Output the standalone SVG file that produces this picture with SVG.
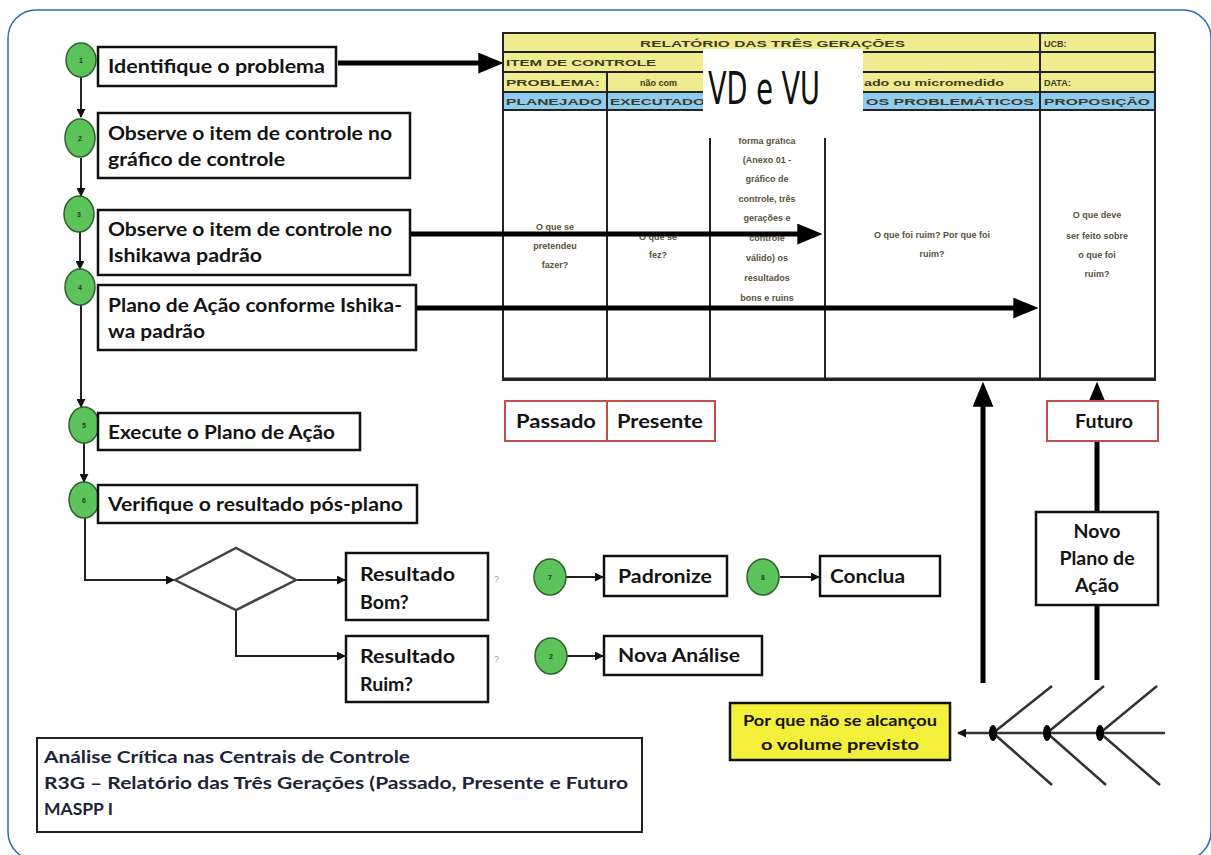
<svg xmlns="http://www.w3.org/2000/svg" width="1211" height="855" viewBox="0 0 1211 855">
<defs>
<style>
.lbl{font-family:Lato,"Liberation Sans",sans-serif;font-weight:700;font-size:19.5px;fill:#141414}
.box{fill:#fff;stroke:#111;stroke-width:2.5}
.rbox{fill:#fff;stroke:#c0504d;stroke-width:2}
.circ{fill:#5cc25a;stroke:#2f5f2f;stroke-width:1.5}
.num{font-family:"Liberation Sans",sans-serif;font-size:7px;font-weight:700;fill:#1e3a1e;text-anchor:middle}
.thin{fill:none;stroke:#222;stroke-width:2;marker-end:url(#sa)}
.thick{fill:none;stroke:#000;stroke-width:5;marker-end:url(#ba)}
.thickn{fill:none;stroke:#000;stroke-width:5}
.hdr{font-family:"Liberation Sans",sans-serif;font-weight:700;font-size:9px;fill:#3b3a22}
.cell{font-family:"Liberation Sans",sans-serif;font-weight:700;font-size:9px;fill:#585238;text-anchor:middle}
.tl{fill:none;stroke:#222;stroke-width:2}
.bone{fill:none;stroke:#333;stroke-width:2.5}
.info{font-family:Lato,"Liberation Sans",sans-serif;font-weight:700;font-size:17.5px;fill:#1c2438}
</style>
<marker id="sa" viewBox="0 0 10 10" refX="9" refY="5" markerWidth="9" markerHeight="9" markerUnits="userSpaceOnUse" orient="auto"><path d="M0,0 L10,5 L0,10 z" fill="#111"/></marker>
<marker id="ba" viewBox="0 0 24 20" refX="16" refY="10" markerWidth="25" markerHeight="21" markerUnits="userSpaceOnUse" orient="auto"><path d="M0,0 L24,10 L0,20 z" fill="#000"/></marker>
</defs>
<rect x="0" y="0" width="1211" height="855" fill="#fff"/>
<rect x="8" y="10" width="1203" height="850" rx="28" fill="none" stroke="#2f6fa8" stroke-width="1.5"/>

<g id="table">
<rect x="503" y="33" width="652" height="59" fill="#efeb8e"/>
<rect x="503" y="92" width="652" height="18" fill="#8fccef"/>
<rect x="503" y="33" width="652" height="347" fill="none" stroke="#222" stroke-width="2"/>
<line x1="503" y1="52" x2="1155" y2="52" class="tl"/>
<line x1="503" y1="72" x2="1155" y2="72" class="tl"/>
<line x1="503" y1="92" x2="1155" y2="92" class="tl"/>
<line x1="503" y1="110" x2="1155" y2="110" class="tl"/>
<line x1="1040" y1="33" x2="1040" y2="380" class="tl"/>
<line x1="607" y1="72" x2="607" y2="380" class="tl"/>
<line x1="710" y1="138" x2="710" y2="380" class="tl"/>
<line x1="825" y1="138" x2="825" y2="380" class="tl"/>
<line x1="503" y1="379" x2="1155" y2="379" stroke="#222" stroke-width="3"/>
<text class="hdr" x="640" y="47" textLength="265" lengthAdjust="spacingAndGlyphs">RELATÓRIO DAS TRÊS GERAÇÕES</text>
<text class="hdr" x="1044" y="47">UCB:</text>
<text class="hdr" x="506" y="66" textLength="150" lengthAdjust="spacingAndGlyphs">ITEM DE CONTROLE</text>
<text class="hdr" x="506" y="86" textLength="94" lengthAdjust="spacingAndGlyphs">PROBLEMA:</text>
<text class="hdr" x="640" y="86">não com</text>
<text class="hdr" x="864" y="86" textLength="140" lengthAdjust="spacingAndGlyphs">ado ou micromedido</text>
<text class="hdr" x="1044" y="86">DATA:</text>
<text class="hdr" x="506" y="105" textLength="96" lengthAdjust="spacingAndGlyphs">PLANEJADO</text>
<text class="hdr" x="610" y="105" textLength="95" lengthAdjust="spacingAndGlyphs">EXECUTADO</text>
<text class="hdr" x="866" y="105" textLength="168" lengthAdjust="spacingAndGlyphs">OS PROBLEMÁTICOS</text>
<text class="hdr" x="1044" y="105" textLength="106" lengthAdjust="spacingAndGlyphs">PROPOSIÇÃO</text>
<text class="cell" x="555" y="230">O que se</text>
<text class="cell" x="555" y="249">pretendeu</text>
<text class="cell" x="555" y="268">fazer?</text>
<text class="cell" x="658" y="240">O que se</text>
<text class="cell" x="658" y="258">fez?</text>
<text class="cell" x="767" y="144">forma gráfica</text>
<text class="cell" x="767" y="163">(Anexo 01 -</text>
<text class="cell" x="767" y="182">gráfico de</text>
<text class="cell" x="767" y="202">controle, três</text>
<text class="cell" x="767" y="221">gerações e</text>
<text class="cell" x="767" y="241">controle</text>
<text class="cell" x="767" y="261">válido) os</text>
<text class="cell" x="767" y="281">resultados</text>
<text class="cell" x="767" y="301">bons e ruins</text>
<text class="cell" x="932" y="238">O que foi ruim? Por que foi</text>
<text class="cell" x="932" y="257">ruim?</text>
<text class="cell" x="1097" y="218">O que deve</text>
<text class="cell" x="1097" y="239">ser feito sobre</text>
<text class="cell" x="1097" y="258">o que foi</text>
<text class="cell" x="1097" y="277">ruim?</text>
<rect x="703" y="49" width="160" height="89" fill="#fff"/>
<text x="708" y="104" font-family="'Liberation Sans Narrow','DejaVu Sans Condensed',sans-serif" font-size="44" fill="#111" textLength="112" lengthAdjust="spacingAndGlyphs">VD e VU</text>
</g>

<g id="connectors">
<path class="thin" d="M81,77 V117"/>
<path class="thin" d="M81,158 V196"/>
<path class="thin" d="M80,232 V269"/>
<path class="thin" d="M81,305 V407"/>
<path class="thin" d="M84,443 V482"/>
<path class="thin" d="M85,518 V580 H174"/>
<path class="thin" d="M296,580 H345"/>
<path class="thin" d="M236,610 V656 H345"/>
<path class="thin" d="M566,577 H603"/>
<path class="thin" d="M780,577 H819"/>
<path class="thin" d="M567,656 H603"/>
<path class="thick" d="M338,63 H495"/>
<path class="thick" d="M410,234 H814"/>
<path class="thick" d="M416,308 H1030"/>
<path class="thick" d="M983,683 V390"/>
<path class="thick" d="M1097,401 V390"/>
<path class="thickn" d="M1097,441 V512"/>
<path class="thickn" d="M1097,605 V680"/>
<path class="bone" d="M1165,733 H958" marker-end="url(#sa)"/>
<path class="bone" d="M993,733 L1052,686 M1047,733 L1104,686 M1100,733 L1157,686"/>
<path class="bone" d="M993,733 L1052,785 M1047,733 L1106,785 M1100,733 L1160,785"/>
<ellipse cx="993" cy="733" rx="4" ry="8" fill="#000"/>
<ellipse cx="1047" cy="733" rx="4" ry="8" fill="#000"/>
<ellipse cx="1100" cy="733" rx="4" ry="8" fill="#000"/>
</g>

<g id="n1"><ellipse class="circ" cx="81" cy="60" rx="15" ry="17"/><text class="num" x="81" y="63">1</text>
<rect class="box" x="98" y="47" width="238" height="39"/><text class="lbl" x="108" y="73" textLength="217" lengthAdjust="spacingAndGlyphs">Identifique o problema</text></g>
<g id="n2"><ellipse class="circ" cx="80" cy="138" rx="15" ry="19"/><text class="num" x="80" y="141">2</text>
<rect class="box" x="98" y="113" width="312" height="65"/><text class="lbl" x="108" y="140" textLength="284" lengthAdjust="spacingAndGlyphs">Observe o item de controle no</text><text class="lbl" x="108" y="166" textLength="177" lengthAdjust="spacingAndGlyphs">gráfico de controle</text></g>
<g id="n3"><ellipse class="circ" cx="79" cy="214" rx="15" ry="18"/><text class="num" x="79" y="217">3</text>
<rect class="box" x="98" y="210" width="312" height="65"/><text class="lbl" x="108" y="236" textLength="284" lengthAdjust="spacingAndGlyphs">Observe o item de controle no</text><text class="lbl" x="108" y="262" textLength="154" lengthAdjust="spacingAndGlyphs">Ishikawa padrão</text></g>
<g id="n4"><ellipse class="circ" cx="80" cy="287" rx="15" ry="18"/><text class="num" x="80" y="290">4</text>
<rect class="box" x="98" y="285" width="318" height="65"/><text class="lbl" x="108" y="312" textLength="294" lengthAdjust="spacingAndGlyphs">Plano de Ação conforme Ishika-</text><text class="lbl" x="108" y="338" textLength="97" lengthAdjust="spacingAndGlyphs">wa padrão</text></g>
<g id="n5"><ellipse class="circ" cx="84" cy="425" rx="15" ry="18"/><text class="num" x="84" y="428">5</text>
<rect class="box" x="98" y="413" width="262" height="37"/><text class="lbl" x="108" y="439" textLength="227" lengthAdjust="spacingAndGlyphs">Execute o Plano de Ação</text></g>
<g id="n6"><ellipse class="circ" cx="84" cy="500" rx="15" ry="18"/><text class="num" x="84" y="503">6</text>
<rect class="box" x="98" y="485" width="319" height="38"/><text class="lbl" x="108" y="511" textLength="295" lengthAdjust="spacingAndGlyphs">Verifique o resultado pós-plano</text></g>
<g id="decision"><path d="M175,580 L236,548 L296,580 L236,610 Z" fill="#fff" stroke="#444" stroke-width="2.5"/></g>
<g id="bom"><rect class="box" x="346" y="553" width="142" height="67"/><text class="lbl" x="360" y="581" textLength="95" lengthAdjust="spacingAndGlyphs">Resultado</text><text class="lbl" x="360" y="609">Bom?</text>
<text x="494" y="582" font-family="'Liberation Sans',sans-serif" font-size="9" fill="#999">?</text></g>
<g id="ruim"><rect class="box" x="346" y="636" width="142" height="66"/><text class="lbl" x="360" y="663" textLength="95" lengthAdjust="spacingAndGlyphs">Resultado</text><text class="lbl" x="360" y="691">Ruim?</text>
<text x="494" y="662" font-family="'Liberation Sans',sans-serif" font-size="9" fill="#999">?</text></g>
<g id="n7"><ellipse class="circ" cx="550" cy="577" rx="16" ry="18"/><text class="num" x="550" y="580">7</text>
<rect class="box" x="604" y="556" width="123" height="40"/><text class="lbl" x="618" y="583" textLength="94" lengthAdjust="spacingAndGlyphs">Padronize</text></g>
<g id="n8"><ellipse class="circ" cx="763" cy="577" rx="16" ry="18"/><text class="num" x="763" y="580">8</text>
<rect class="box" x="820" y="556" width="120" height="40"/><text class="lbl" x="830" y="583" textLength="75" lengthAdjust="spacingAndGlyphs">Conclua</text></g>
<g id="nova"><ellipse class="circ" cx="551" cy="656" rx="16" ry="18"/><text class="num" x="551" y="659">2</text>
<rect class="box" x="604" y="636" width="158" height="39"/><text class="lbl" x="618" y="662" textLength="122" lengthAdjust="spacingAndGlyphs">Nova Análise</text></g>
<g id="tempo"><rect class="rbox" x="505" y="401" width="210" height="40"/><line x1="607" y1="401" x2="607" y2="441" stroke="#c0504d" stroke-width="2"/>
<text class="lbl" x="516" y="428" textLength="80" lengthAdjust="spacingAndGlyphs">Passado</text><text class="lbl" x="617" y="428" textLength="86" lengthAdjust="spacingAndGlyphs">Presente</text></g>
<g id="futuro"><rect class="rbox" x="1047" y="401" width="111" height="40"/><text class="lbl" x="1104" y="428" text-anchor="middle">Futuro</text></g>
<g id="novoplano"><rect class="box" x="1036" y="512" width="122" height="93"/>
<text class="lbl" x="1097" y="538" text-anchor="middle">Novo</text><text class="lbl" x="1097" y="565" text-anchor="middle">Plano de</text><text class="lbl" x="1097" y="592" text-anchor="middle">Ação</text></g>
<g id="porque"><rect x="730" y="703" width="220" height="57" fill="#f4ef3a" stroke="#111" stroke-width="2.5"/>
<text x="840" y="726" text-anchor="middle" font-family="Lato,'Liberation Sans',sans-serif" font-weight="700" font-size="15" fill="#141414" textLength="194" lengthAdjust="spacingAndGlyphs">Por que não se alcançou</text>
<text x="840" y="750" text-anchor="middle" font-family="Lato,'Liberation Sans',sans-serif" font-weight="700" font-size="15" fill="#141414" textLength="158" lengthAdjust="spacingAndGlyphs">o volume previsto</text></g>
<g id="info"><rect x="37" y="738" width="605" height="94" fill="#fff" stroke="#222" stroke-width="2"/>
<text class="info" x="44" y="763" textLength="366" lengthAdjust="spacingAndGlyphs">Análise Crítica nas Centrais de Controle</text>
<text class="info" x="44" y="789" textLength="584" lengthAdjust="spacingAndGlyphs">R3G – Relatório das Três Gerações (Passado, Presente e Futuro</text>
<text class="info" x="44" y="815">MASPP I</text></g>
</svg>
